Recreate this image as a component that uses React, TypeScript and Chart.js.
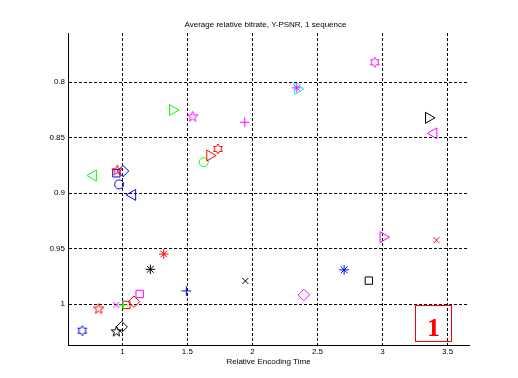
import React, { useEffect, useRef } from "react";
import { Chart, registerables } from "chart.js";

Chart.register(...registerables);

// ---- text ----
const chartTitle = "Average relative bitrate, Y-PSNR, 1 sequence";
const xAxisTitle = "Relative Encoding Time";
const badgeLabel = "1";

// ---- axes ----
const xTickValues = [1, 1.5, 2, 2.5, 3, 3.5];
const yTickValues = [0.8, 0.85, 0.9, 0.95, 1];
const xLimits = [0.582, 3.665];
const yLimits = [0.7556, 1.0367];

// ---- data (one entry per marker) ----
const relEncodingTime = [
  1.387, 1.541, 1.941, 2.341, 2.349, 2.941, 3.355, 3.394, 1.625, 1.673,
  1.735, 0.776, 0.954, 1.005, 0.96, 0.975, 1.078, 1.318, 1.215, 1.492,
  1.133, 1.089, 1.031, 1.005, 0.954, 0.818, 0.692, 0.995, 0.954, 1.946,
  2.395, 2.705, 2.895, 3.005, 3.415,
];
const relBitrate = [
  0.825, 0.831, 0.836, 0.805, 0.806, 0.782, 0.832, 0.846, 0.872, 0.866,
  0.86, 0.884, 0.882, 0.88, 0.8795, 0.892, 0.9015, 0.9547, 0.9685, 0.988,
  0.9907, 0.9977, 1.0006, 1.0006, 1.0006, 1.0042, 1.0238, 1.0204, 1.0247, 0.979,
  0.9916, 0.969, 0.9787, 0.9395, 0.9423,
];

// ---- styles (one entry per marker) ----
const markerColor = [
  "g", "m", "m", "m", "c", "m", "k", "m", "g", "r",
  "r", "g", "b", "b", "r", "b", "b", "r", "k", "b",
  "m", "r", "r", "g", "m", "r", "b", "k", "k", "k",
  "m", "b", "k", "m", "r",
];
const markerShape = [
  ">", "p", "+", "*", ">", "h", ">", "<", "o", ">",
  "h", "<", "s", "d", "p", "o", "<", "*", "*", "+",
  "s", "d", "s", "+", "x", "p", "h", "d", "p", "x",
  "d", "*", "s", ">", "x",
];

const colorMap: Record<string, string> = {
  r: "#ff0000",
  g: "#00ff00",
  b: "#0000ff",
  m: "#ff00ff",
  c: "#00ffff",
  k: "#000000",
};

const FONT_FAMILY = "'Liberation Sans', Arial, sans-serif";

function makeStarImage(points: number, inner: number, color: string, r: number) {
  const size = Math.ceil(r * 2) + 4;
  const c = document.createElement("canvas");
  c.width = size;
  c.height = size;
  const ctx = c.getContext("2d")!;
  const cx = size / 2;
  const cy = size / 2;
  ctx.strokeStyle = color;
  ctx.lineWidth = 1;
  ctx.beginPath();
  for (let i = 0; i < points * 2; i++) {
    const rad = i % 2 === 0 ? r : r * inner;
    const a = -Math.PI / 2 + (i * Math.PI) / points;
    const px = cx + Math.cos(a) * rad;
    const py = cy + Math.sin(a) * rad;
    if (i === 0) ctx.moveTo(px, py);
    else ctx.lineTo(px, py);
  }
  ctx.closePath();
  ctx.stroke();
  return c;
}

function markerStyleFor(shape: string, color: string) {
  switch (shape) {
    case ">":
      return { style: "triangle" as any, radius: 6.3, rotation: 90 };
    case "<":
      return { style: "triangle" as any, radius: 6.3, rotation: -90 };
    case "o":
      return { style: "circle" as any, radius: 4.5, rotation: 0 };
    case "s":
      return { style: "rect" as any, radius: 5.2, rotation: 0 };
    case "d":
      return { style: "rectRot" as any, radius: 5.7, rotation: 0 };
    case "+":
      return { style: "cross" as any, radius: 4.8, rotation: 0 };
    case "x":
      return { style: "crossRot" as any, radius: 4.2, rotation: 0 };
    case "*":
      return { style: "star" as any, radius: 4.8, rotation: 0 };
    case "p":
      return { style: makeStarImage(5, 0.4, color, 5.5) as any, radius: 5.5, rotation: 0 };
    case "h":
      return { style: makeStarImage(6, 0.58, color, 5) as any, radius: 5, rotation: 0 };
    default:
      return { style: "circle" as any, radius: 4, rotation: 0 };
  }
}

const overlayPlugin = {
  id: "overlay",
  afterDraw(chart: any) {
    const { ctx, chartArea } = chart;
    ctx.save();
    // title
    ctx.fillStyle = "#000";
    ctx.font = `8px ${FONT_FAMILY}`;
    ctx.textAlign = "center";
    ctx.textBaseline = "middle";
    ctx.fillText(chartTitle, (chartArea.left + chartArea.right) / 2 - 3, 25);
    // badge box
    const bx = chartArea.right - 54;
    const by = chartArea.bottom - 40;
    ctx.strokeStyle = "#ff0000";
    ctx.lineWidth = 1;
    ctx.strokeRect(Math.round(bx) + 0.5, Math.round(by) + 0.5, 36, 36);
    ctx.fillStyle = "#ff0000";
    ctx.font = `bold 26px 'Liberation Serif', 'Times New Roman', serif`;
    ctx.textAlign = "center";
    ctx.textBaseline = "alphabetic";
    ctx.fillText(badgeLabel, bx + 18.5, by + 31);
    ctx.restore();
  },
};

export default function App() {
  const canvasRef = useRef<HTMLCanvasElement | null>(null);

  useEffect(() => {
    document.body.style.margin = "0";
    const canvas = canvasRef.current;
    if (!canvas) return;

    const points = relEncodingTime.map((x, i) => ({ x, y: relBitrate[i] }));
    const styles = markerShape.map((s, i) => markerStyleFor(s, colorMap[markerColor[i]]));

    const tickFont = { family: FONT_FAMILY, size: 8 };

    const chart = new Chart(canvas, {
      type: "scatter",
      data: {
        datasets: [
          {
            data: points,
            showLine: false,
            pointStyle: styles.map((s) => s.style),
            pointRadius: styles.map((s) => s.radius),
            pointRotation: styles.map((s) => s.rotation),
            pointBorderColor: markerColor.map((c) => colorMap[c]),
            pointBackgroundColor: "rgba(0,0,0,0)",
            pointBorderWidth: 1,
            pointHoverRadius: styles.map((s) => s.radius),
          } as any,
        ],
      },
      options: {
        animation: false,
        responsive: false,
        maintainAspectRatio: false,
        devicePixelRatio: 1,
        events: [],
        layout: { padding: { top: 33, right: 49, left: 0, bottom: 0 } },
        plugins: {
          legend: { display: false },
          tooltip: { enabled: false },
          title: { display: false },
        },
        scales: {
          x: {
            type: "linear",
            min: xLimits[0],
            max: xLimits[1],
            afterBuildTicks: (scale: any) => {
              scale.ticks = xTickValues.map((v) => ({ value: v }));
            },
            afterFit: (scale: any) => {
              scale.height = 33;
            },
            ticks: {
              callback: (v: any) => String(v),
              font: tickFont,
              color: "#000",
              padding: 2,
              maxRotation: 0,
              autoSkip: false,
            },
            grid: {
              color: "#000",
              lineWidth: 1,
              drawTicks: false,
              borderDash: [3, 2],
            } as any,
            border: { display: true, color: "#000", width: 1, dash: [3, 2] },
            title: {
              display: true,
              text: xAxisTitle,
              font: tickFont,
              color: "#000",
              padding: { top: 0, bottom: 11 },
            },
          },
          y: {
            type: "linear",
            reverse: true,
            min: yLimits[0],
            max: yLimits[1],
            afterBuildTicks: (scale: any) => {
              scale.ticks = yTickValues.map((v) => ({ value: v }));
            },
            afterFit: (scale: any) => {
              scale.width = 68;
            },
            ticks: {
              callback: (v: any) => String(v),
              font: tickFont,
              color: "#000",
              padding: 3,
              autoSkip: false,
            },
            grid: {
              color: "#000",
              lineWidth: 1,
              drawTicks: false,
              borderDash: [3, 2],
            } as any,
            border: { display: true, color: "#000", width: 1, dash: [3, 2] },
          },
        },
      } as any,
      plugins: [overlayPlugin],
    });

    return () => {
      chart.destroy();
    };
  }, []);

  return (
    <div style={{ width: 518, height: 378, background: "#fff" }}>
      <canvas ref={canvasRef} width={518} height={378} style={{ display: "block" }} />
    </div>
  );
}
